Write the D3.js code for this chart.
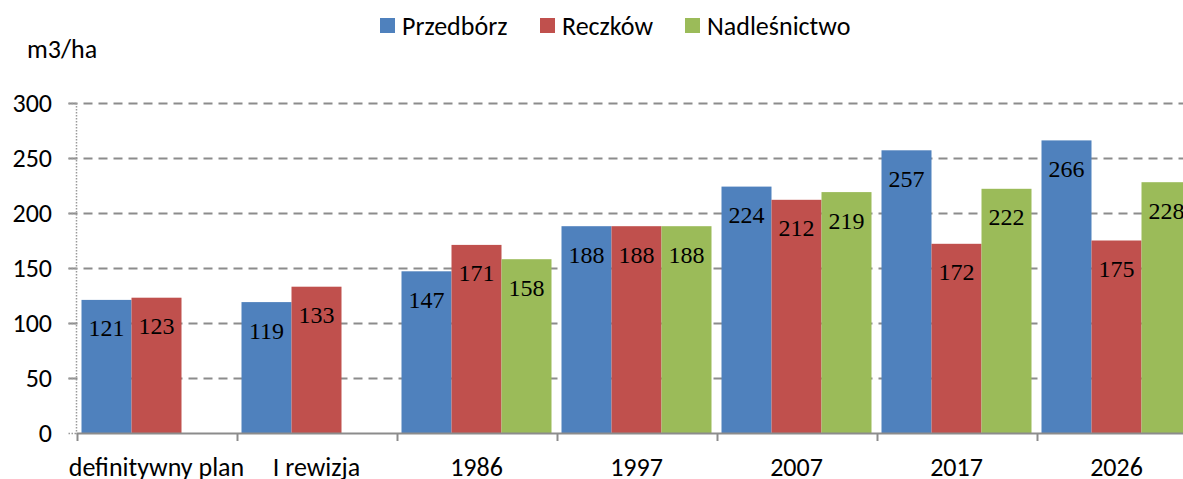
<!DOCTYPE html>
<html>
<head>
<meta charset="utf-8">
<script src="https://cdn.jsdelivr.net/npm/d3@7"></script>
<style>
  html, body { margin: 0; padding: 0; background: #fff; overflow: hidden; }
  svg { display: block; }
</style>
</head>
<body>
<svg id="chart" width="1183" height="479"></svg>
<script>
const categories = ["definitywny plan", "I rewizja", "1986", "1997", "2007", "2017", "2026"];
const seriesNames = ["Przedbórz", "Reczków", "Nadleśnictwo"];
const przedborz = [121, 119, 147, 188, 224, 257, 266];
const reczkow = [123, 133, 171, 188, 212, 172, 175];
const nadlesnictwo = [null, null, 158, 188, 219, 222, 228];
const yTicks = [0, 50, 100, 150, 200, 250, 300];
const colors = ["#4F81BD", "#C0504D", "#9BBB59"];

const series = [przedborz, reczkow, nadlesnictwo];
const sans = "Carlito, Lato, 'Liberation Sans', sans-serif";
const serif = "'Liberation Serif', 'Times New Roman', serif";
const fs = 26;

const svg = d3.select("#chart");
const left = 76.5, plotTop = 103, plotBottom = 433;
const bandW = 160;

const x = d3.scaleBand().domain(categories).range([left, left + bandW * categories.length]).paddingInner(0).paddingOuter(0);
const y = d3.scaleLinear().domain([0, 300]).range([plotBottom, plotTop]);
const xSub = d3.scaleBand().domain(d3.range(3)).range([5, bandW - 5]);

// horizontal dashed gridlines
svg.append("g").selectAll("line").data(yTicks.filter(t => t > 0)).join("line")
  .attr("x1", left - 8).attr("x2", 1183)
  .attr("y1", d => Math.round(y(d)) + 0.5).attr("y2", d => Math.round(y(d)) + 0.5)
  .attr("stroke", "#8c8c8c").attr("stroke-width", 2).attr("stroke-dasharray", "9,6");

// dotted vertical axis
svg.append("line")
  .attr("x1", left).attr("x2", left).attr("y1", plotTop).attr("y2", plotBottom)
  .attr("stroke", "#9a9a9a").attr("stroke-width", 1.5).attr("stroke-dasharray", "1.5,1.5");
svg.append("g").selectAll("line").data(yTicks).join("line")
  .attr("x1", left - 8).attr("x2", left).attr("y1", d => Math.round(y(d)) + 0.5).attr("y2", d => Math.round(y(d)) + 0.5)
  .attr("stroke", "#9a9a9a").attr("stroke-width", 1.5).attr("stroke-dasharray", "1.5,1.5");

// y tick labels
svg.append("g").selectAll("text").data(yTicks).join("text")
  .attr("x", 52).attr("y", d => y(d)).attr("dy", "0.35em")
  .attr("text-anchor", "end").attr("font-family", sans).attr("font-size", fs).attr("fill", "#000")
  .text(d => d);

svg.append("text").attr("x", 27).attr("y", 58).attr("font-family", sans).attr("font-size", fs).text("m3/ha");

// bars
const groups = svg.append("g").selectAll("g").data(categories).join("g")
  .attr("transform", d => `translate(${x(d)},0)`);

series.forEach((vals, si) => {
  groups.filter((d, i) => vals[i] != null).append("rect")
    .attr("x", xSub(si)).attr("width", xSub.bandwidth())
    .attr("y", d => y(vals[categories.indexOf(d)]))
    .attr("height", d => plotBottom - y(vals[categories.indexOf(d)]))
    .attr("fill", colors[si]);
  groups.filter((d, i) => vals[i] != null).append("text")
    .attr("x", xSub(si) + xSub.bandwidth() / 2)
    .attr("y", d => y(vals[categories.indexOf(d)]) + 28)
    .attr("dy", "0.35em").attr("text-anchor", "middle")
    .attr("font-family", serif).attr("font-size", 24).attr("fill", "#000")
    .text(d => vals[categories.indexOf(d)]);
});

// x axis
const xAxis = svg.append("g").attr("transform", `translate(0,${plotBottom})`);
xAxis.append("line").attr("x1", left).attr("x2", 1183).attr("y1", 0.5).attr("y2", 0.5)
  .attr("stroke", "#8c8c8c").attr("stroke-width", 2);
xAxis.selectAll("line.tick").data(categories).join("line").attr("class", "tick")
  .attr("x1", d => Math.round(x(d)) + 0.5).attr("x2", d => Math.round(x(d)) + 0.5)
  .attr("y1", 0).attr("y2", 8).attr("stroke", "#8c8c8c").attr("stroke-width", 2);
xAxis.selectAll("text").data(categories).join("text")
  .attr("x", d => x(d) + bandW / 2).attr("y", 43)
  .attr("text-anchor", "middle").attr("font-family", sans).attr("font-size", fs).attr("fill", "#000")
  .text(d => d);

// legend
const legendX = [380, 540, 685];
const legend = svg.append("g").selectAll("g").data(seriesNames).join("g")
  .attr("transform", (d, i) => `translate(${legendX[i]},18)`);
legend.append("rect").attr("width", 15).attr("height", 15).attr("fill", (d, i) => colors[i]);
legend.append("text").attr("x", 22).attr("y", 7.5).attr("dy", "0.35em")
  .attr("font-family", sans).attr("font-size", fs).text(d => d);
</script>
</body>
</html>
